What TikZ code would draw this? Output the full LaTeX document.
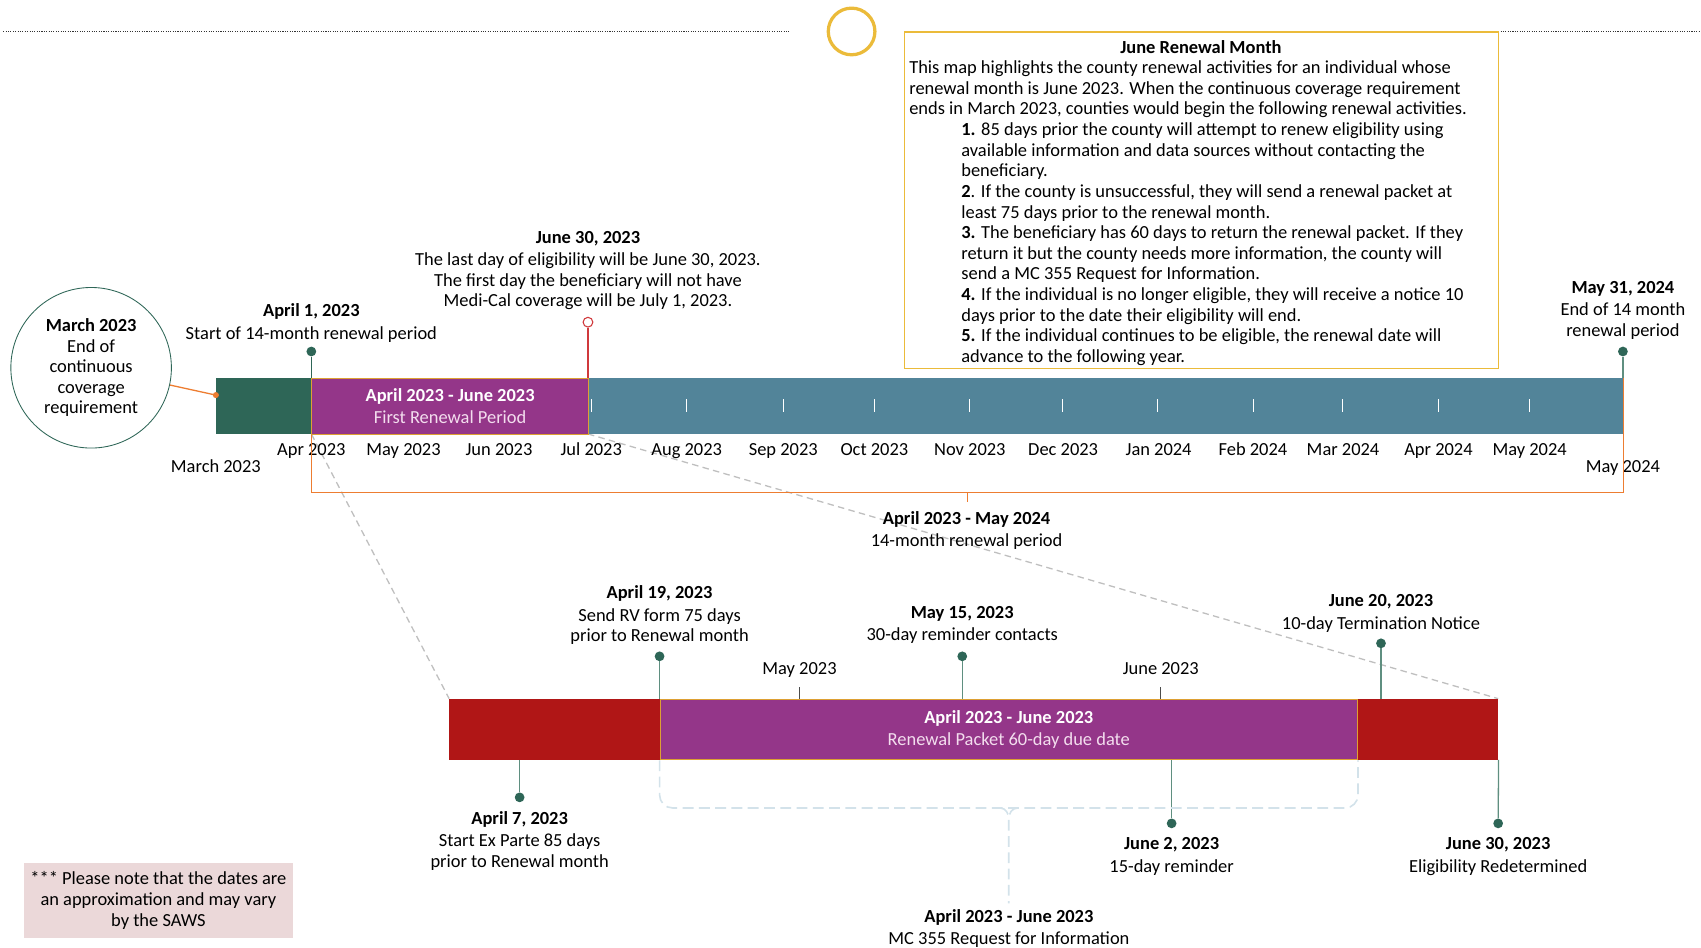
\documentclass[tikz,border=0pt]{standalone}
\usepackage{fontspec}
\setmainfont{Carlito}
\usetikzlibrary{calc}

\definecolor{dkgreen}{HTML}{2E6657}
\definecolor{plum}{HTML}{943689}
\definecolor{steel}{HTML}{528499}
\definecolor{crimson}{HTML}{B01616}
\definecolor{gold}{HTML}{EBBB3A}
\definecolor{amber}{HTML}{DDA033}
\definecolor{tangerine}{HTML}{ED7D31}
\definecolor{pinline}{HTML}{5F8F80}
\definecolor{redpin}{HTML}{D0393C}
\definecolor{blush}{HTML}{EBD8D9}
\definecolor{mist}{HTML}{D3E2EA}
\definecolor{lilac}{HTML}{F3DDEE}

\tikzset{
  txt/.style={font=\fontsize{17}{19}\selectfont, align=center, inner sep=0pt},
  lbl/.style={txt, anchor=north},
  mon/.style={txt, anchor=base},
  bar/.style={rectangle, inner sep=0pt, anchor=north west},
  pin/.style={draw=pinline, line width=1.2pt},
  pindot/.style={circle, fill=dkgreen, inner sep=0pt, minimum size=9pt},
  zoomln/.style={draw=black!25, line width=1.2pt, dash pattern=on 6pt off 4pt},
  brk/.style={draw=tangerine, line width=1.2pt},
  mistln/.style={draw=mist, line width=1.5pt, dash pattern=on 10pt off 5pt},
  rule/.style={draw=black!80, line width=1pt, dash pattern=on 1pt off 1.2pt},
}

\begin{document}
\begin{tikzpicture}[x=1pt,y=-1pt]
  \useasboundingbox (0,0) rectangle (1568,873);

  % top rule and info box
  \draw[rule] (3,29) -- (727,29);
  \draw[rule] (1381,29) -- (1568,29);
  \node[circle, draw=gold, line width=3pt, minimum size=43pt, inner sep=0pt] (ring) at (785,29) {};
  \node[bar, draw=gold, line width=1.2pt, minimum width=548pt, minimum height=310pt] (info) at (833,29) {};
  \node[lbl] (infohd) at (1107,37) {\textbf{June Renewal Month}};
  \node[txt, anchor=north west, align=left] (infotxt) at (838,56) {This map highlights the county renewal activities for an individual whose\\renewal month is June 2023. When the continuous coverage requirement\\ends in March 2023, counties would begin the following renewal activities.};
  \node[txt, anchor=north west, align=left] (infolist) at (886,113) {\textbf{1.} 85 days prior the county will attempt to renew eligibility using\\available information and data sources without contacting the\\beneficiary.\\\textbf{2}. If the county is unsuccessful, they will send a renewal packet at\\least 75 days prior to the renewal month.\\\textbf{3.} The beneficiary has 60 days to return the renewal packet. If they\\return it but the county needs more information, the county will\\send a MC 355 Request for Information.\\\textbf{4.} If the individual is no longer eligible, they will receive a notice 10\\days prior to the date their eligibility will end.\\\textbf{5.} If the individual continues to be eligible, the renewal date will\\advance to the following year.};

  % zoom lines
  \draw[zoomln] (287,400) -- (414,644);
  \draw[zoomln] (542,400) -- (1381,644);

  % 14-month bar
  \node[bar, fill=dkgreen, minimum width=88pt, minimum height=52pt] (mar) at (199,348) {};
  \node[bar, fill=steel, minimum width=954pt, minimum height=52pt] (rest) at (542,348) {};
  \node[bar, txt, fill=plum, draw=amber, line width=0.8pt, minimum width=255pt, minimum height=52pt, text=white] (first) at (287,348) {\textbf{April 2023 - June 2023}\\[1.5pt]\textcolor{lilac}{First Renewal Period}};
  \foreach \x in {545,633,722,806,894,979,1067,1155,1237,1326,1410}
    \draw[white, line width=0.8pt] (\x,368) -- (\x,380);

  \foreach \x/\m in {287/Apr 2023, 372/May 2023, 460/Jun 2023, 545/Jul 2023, 633/Aug 2023, 722/Sep 2023, 806/Oct 2023, 894/Nov 2023, 980/Dec 2023, 1068/Jan 2024, 1155/Feb 2024, 1238/Mar 2024, 1326/Apr 2024, 1410/May 2024}
    \node[mon] (mo\x) at (\x,420) {\m};
  \node[mon] (mostart) at (199,436) {March 2023};
  \node[mon] (moend) at (1496,436) {May 2024};

  \node[circle, txt, draw=dkgreen, line width=0.8pt, minimum size=148pt] (endcc) at (84,339) {\textbf{March 2023}\\End of\\continuous\\coverage\\requirement};
  \draw[brk] (endcc) -- ([yshift=10pt]mar.west);
  \fill[tangerine] ([yshift=10pt]mar.west) circle (2.8);

  \draw[brk] (first.south west) -- ++(0,53) coordinate (brkl) -| (rest.north east);
  \draw[brk] ($(brkl)!0.5!(brkl -| rest.east)$) -- ++(0,9);
  \node[lbl] (spanlbl) at (891,471) {\textbf{April 2023 - May 2024}\\[1.5pt]14-month renewal period};

  \node[pindot] (apr1) at (287,324) {};
  \draw[pin, draw=dkgreen] (apr1) -- (apr1 |- first.north);
  \node[lbl] (apr1lbl) at (287,280) {\textbf{April 1, 2023}\\[1.5pt]Start of 14-month renewal period};

  \node[circle, draw=redpin, fill=white, line width=1pt, inner sep=0pt, minimum size=9pt] (jun30) at (542,297) {};
  \draw[draw=redpin, line width=1.2pt] (jun30) -- (jun30 |- first.north);
  \node[lbl] (jun30lbl) at (542,213) {\textbf{June 30, 2023}\\[1.5pt]The last day of eligibility will be June 30, 2023.\\The first day the beneficiary will not have\\Medi-Cal coverage will be July 1, 2023.};

  \node[pindot] (may31) at (1496,324) {};
  \draw[pin] (may31) -- (may31 |- rest.north);
  \node[lbl] (may31lbl) at (1496,259) {\textbf{May 31, 2024}\\[1.5pt]End of 14 month\\renewal period};

  % renewal month bar
  \node[bar, fill=crimson, minimum width=194pt, minimum height=56pt] (exp) at (414,644) {};
  \node[bar, fill=crimson, minimum width=130pt, minimum height=56pt] (term) at (1251,644) {};
  \node[bar, txt, fill=plum, draw=amber, line width=0.8pt, minimum width=643pt, minimum height=56pt, text=white] (pkt) at (608,644) {\textbf{April 2023 - June 2023}\\[1.5pt]\textcolor{lilac}{Renewal Packet 60-day due date}};

  \node[mon] (may23) at (737,622) {May 2023};
  \draw[black!70, line width=0.8pt] (may23 |- pkt.north) -- ++(0,-11);
  \node[mon] (jun23) at (1070,622) {June 2023};
  \draw[black!70, line width=0.8pt] (jun23 |- pkt.north) -- ++(0,-11);

  \node[pindot] (apr19) at (608,605) {};
  \draw[pin] (apr19) -- (apr19 |- pkt.north);
  \node[lbl] (apr19lbl) at (608,540) {\textbf{April 19, 2023}\\[1.5pt]Send RV form 75 days\\prior to Renewal month};

  \node[pindot] (may15) at (887,605) {};
  \draw[pin] (may15) -- (may15 |- pkt.north);
  \node[lbl] (may15lbl) at (887,559) {\textbf{May 15, 2023}\\[1.5pt]30-day reminder contacts};

  \node[pindot] (jun20) at (1273,593) {};
  \draw[pin] (jun20) -- (jun20 |- term.north);
  \node[lbl] (jun20lbl) at (1273,548) {\textbf{June 20, 2023}\\[1.5pt]10-day Termination Notice};

  \node[pindot] (apr7) at (479,735) {};
  \draw[pin] (apr7) -- (apr7 |- exp.south);
  \node[lbl] (apr7lbl) at (479,748) {\textbf{April 7, 2023}\\[1.5pt]Start Ex Parte 85 days\\prior to Renewal month};

  \node[pindot] (jun2) at (1080,759) {};
  \draw[pin] (jun2) -- (jun2 |- pkt.south);
  \node[lbl] (jun2lbl) at (1080,772) {\textbf{June 2, 2023}\\[1.5pt]15-day reminder};

  \node[pindot] (jun30b) at (1381,759) {};
  \draw[pin] (jun30b) -- (term.south east);
  \node[lbl] (jun30blbl) at (1381,772) {\textbf{June 30, 2023}\\[1.5pt]Eligibility Redetermined};

  % MC 355 brace
  \draw[mistln, rounded corners=12pt] (pkt.south west) -- ++(0,44) -| (pkt.south east);
  \coordinate (bm) at ($(pkt.south west)!0.5!(pkt.south east) + (0,44)$);
  \draw[mistln] ([xshift=-8pt]bm) to[out=0,in=90] ([yshift=-10pt]bm) -- ++(0,78) coordinate (bmend);
  \draw[mistln] ([xshift=8pt]bm) to[out=180,in=90] ([yshift=-10pt]bm);
  \node[lbl] (mc355lbl) at (930,838) {\textbf{April 2023 - June 2023}\\[1.5pt]MC 355 Request for Information};

  \node[txt, fill=blush, minimum width=248pt, minimum height=69pt] (note) at (146,830) {*** Please note that the dates are\\an approximation and may vary\\by the SAWS};
\end{tikzpicture}
\end{document}
